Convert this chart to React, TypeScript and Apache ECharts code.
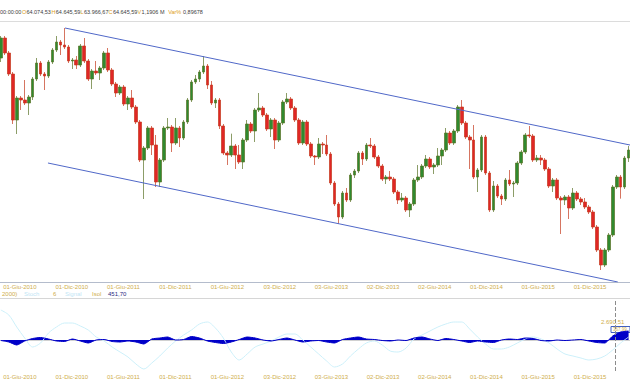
import React, { useEffect, useRef } from "react";
import * as echarts from "echarts";

// ---------- data ----------
const candleStart = "2010-03-26";
const candleStepDays = 14;
const firstOpen = 70.3;

const closes = [73.30,71.05,67.90,61.00,64.30,64.00,63.55,64.45,67.15,69.55,
67.90,67.60,69.70,71.50,72.70,72.25,71.95,69.85,70.00,69.25,
72.10,69.85,67.15,68.35,68.05,68.80,71.05,68.50,66.40,65.05,
65.95,63.40,64.30,62.95,60.70,55.00,56.80,59.80,57.25,51.70,
55.00,59.80,59.95,57.55,59.80,58.30,60.70,64.00,66.70,67.15,
68.20,69.10,66.25,63.55,64.00,60.10,56.05,55.75,57.10,55.75,
54.70,58.00,60.40,59.35,62.50,62.80,61.75,59.65,61.00,58.00,
60.55,63.70,64.15,62.80,61.00,57.55,60.70,57.40,55.60,55.45,
57.40,57.25,55.90,51.55,48.40,46.45,50.05,49.00,52.75,53.35,
56.05,55.15,57.25,57.10,55.45,54.10,52.15,52.45,52.15,50.20,
49.00,49.30,47.50,48.40,52.00,52.45,54.10,55.15,53.95,54.25,
55.60,56.50,59.05,57.55,59.35,62.95,60.55,58.45,58.00,52.45,
53.50,58.45,53.05,47.50,51.10,49.60,49.15,52.00,51.40,51.55,
54.55,56.20,58.75,58.60,55.00,55.30,55.00,53.65,51.10,52.00,
49.30,49.00,49.45,47.80,50.05,49.15,48.70,47.95,47.20,44.95,
41.50,39.25,41.50,43.75,50.95,52.45,50.95,55.30,56.50];

const highs = [73.6,73.6,71.35,68.2,64.6,64.6,67.0,64.75,67.45,70.3,
69.85,68.2,70.0,71.8,73.6,73.0,74.8,72.25,70.3,70.6,
72.4,73.3,70.15,68.65,69.85,69.1,71.35,71.8,68.8,66.7,
66.25,66.25,64.6,65.5,63.25,61.0,57.1,60.1,60.1,58.75,
55.3,60.1,61.3,60.25,61.3,60.1,61.0,64.3,67.0,67.75,
68.5,70.6,69.4,66.85,64.3,64.3,60.4,56.35,58.95,57.4,
57.25,58.3,61.0,60.7,62.8,65.05,63.1,62.05,61.3,61.3,
60.85,64.0,65.05,64.45,63.1,61.3,61.0,61.0,57.7,55.75,
58.3,57.7,58.75,56.2,51.85,48.7,50.35,50.8,53.05,53.65,
56.35,56.35,57.55,58.3,57.4,55.75,54.4,52.75,53.35,52.45,
50.5,50.05,49.6,48.7,52.3,54.25,54.4,55.75,55.45,54.55,
56.8,56.8,59.8,59.35,59.65,63.25,64.0,60.85,58.75,60.25,
53.8,58.75,58.75,53.35,51.85,51.4,49.9,52.3,53.5,51.85,
54.85,56.5,59.05,60.1,58.9,55.75,55.75,55.3,53.95,52.3,
52.3,49.6,49.75,49.75,50.8,50.35,49.45,49.3,48.25,47.5,
45.25,41.8,41.8,44.05,51.25,52.75,52.75,55.6,57.1];

const lows = [69.7,70.75,67.6,60.4,58.9,62.5,63.25,61.75,64.0,66.85,
67.6,65.5,67.3,69.4,71.2,70.75,71.65,69.55,68.65,68.65,
68.95,69.55,66.85,65.65,67.75,67.0,68.5,68.2,66.1,64.45,
64.75,63.1,62.5,62.65,60.4,54.7,49.15,56.5,55.75,50.95,
50.95,54.7,59.5,56.2,57.25,56.95,58.0,60.4,63.7,66.4,
66.7,67.9,65.65,63.25,62.8,59.65,55.75,54.25,55.45,53.65,
54.4,53.65,57.7,59.05,57.7,62.2,61.45,59.35,58.45,56.65,
57.7,60.25,63.4,62.5,60.7,57.25,57.25,57.1,55.3,54.25,
55.15,55.9,55.6,51.25,48.1,45.4,46.15,48.7,48.7,52.3,
53.05,54.25,54.85,56.8,55.15,53.8,51.85,51.4,51.85,49.9,
48.4,48.7,47.2,46.45,48.1,51.7,52.15,53.8,53.65,52.9,
53.95,54.25,56.2,57.25,57.25,59.05,60.25,58.15,53.65,52.15,
50.2,53.2,52.75,47.2,47.2,49.3,48.25,48.85,51.1,49.45,
51.25,54.25,55.9,58.3,54.7,54.7,54.25,53.35,50.8,50.2,
49.0,43.9,48.25,46.15,47.5,48.85,48.25,47.65,46.9,44.65,
41.2,38.5,38.95,41.2,43.45,50.65,49.2,50.65,54.7];

// lower panel oscillators (one value every second candle)
const oscBlue = [-0.5,-2,-5,-1,1.5,2.5,1,-1,-1.5,1,
-1,-3,0,0.5,-1.5,-2,-1,-2,-4,1,
2,3,0,0.5,3.5,2,-1,-2.5,-3.5,-2,
0.5,3,2,0,-1,0.5,2,0,-2,-1,
-0.5,-2,-3,0.5,2,3,1,0.5,-0.5,-1,
0,-0.5,2,3,1,-0.5,1.5,0.5,-1,-2.5,
-1,-2,-2.5,0,1,0.5,2,1.5,-0.5,-1,
0,-0.5,0,0.5,-1,-2.5,-3,4,8,9];

const oscCyan = [30,25,13,2,-7,-3,7,13,17,17,
14,10,3,-1,-7,-12,-17,-24,-29,-23,
-16,-8,-1,5,10,16,18,12,2,-12,
-20,-14,-7,-4,-1,3,6,6,0,-7,
-14,-21,-27,-24,-16,-9,-3,-1,-5,-11,
-12,-8,1,5,9,13,16,18,18,11,
3,-4,-9,-9,-7,-3,1,3,1,-3,
-9,-14,-16,-18,-20,-19,-16,-10,-3,3];

const tickDates = ["2010-06-01","2010-12-01","2011-06-01","2011-12-01","2012-06-01","2012-12-03",
"2013-06-03","2013-12-02","2014-06-02","2014-12-01","2015-06-01","2015-12-01"];
const tickLabels = ["01-Giu-2010","01-Dic-2010","01-Giu-2011","01-Dic-2011","01-Giu-2012","03-Dic-2012",
"03-Giu-2013","02-Dic-2013","02-Giu-2014","01-Dic-2014","01-Giu-2015","01-Dic-2015"];

const upperChannel: [string, number][] = [["2010-11-07", 74.8], ["2016-04-20", 57.25]];
const lowerChannel: [string, number][] = [["2010-09-08", 54.55], ["2016-03-08", 36.7]];
const cursorDate = "2016-02-27";

const headerTime = "00:00:00";
const headerFields = ["O", "H", "L", "C", "V", "Var%"];
const headerValues = ["64.074,53", "64.645,59", "63.966,67", "64.645,59", "1,1906 M", "0,89678"];
const legendParts = ["2000)", "Stoch", "6", "Signal", "Isol", "451,70"];
const lastOscLabel = "2.690,51";
const lastOscBox = "367,99";

const axisStart = "2010-03-23";
const axisEnd = "2016-04-20";

// ---------- helpers ----------
const DAY = 86400000;
function ts(s: string) {
  const [y, m, d] = s.split("-").map(Number);
  return Date.UTC(y, m - 1, d);
}

const GOLD = "#cfae4c";
const FONT = '"Liberation Sans", Arial, sans-serif';

export default function App() {
  const ref = useRef<HTMLDivElement>(null);
  useEffect(() => {
    if (!ref.current) return;
    const chart = echarts.init(ref.current, null, { renderer: "svg" });
    const t0 = ts(candleStart);
    const dates = closes.map((_, i) => t0 + i * candleStepDays * DAY);
    const candles = closes.map((c, i) => [dates[i], i === 0 ? firstOpen : closes[i - 1], c, lows[i], highs[i]]);
    const blue = oscBlue.map((v, k) => [dates[2 * k], v]);
    const cyan = oscCyan.map((v, k) => [dates[2 * k], v]);
    const tickTs = tickDates.map(ts);
    const fmt = (v: number) => {
      const i = tickTs.findIndex((t) => Math.abs(t - v) < DAY / 2);
      return i >= 0 ? tickLabels[i] : "";
    };

    const txt = (x: number, y: number, text: string, fill: string, size = 6) => ({
      type: "text", x, y, silent: true,
      style: { text, fill, fontSize: size, fontFamily: FONT, verticalAlign: "middle", align: "left" },
    });

    const hdrLabelX = [22, 51.6, 80.6, 108.6, 137.6, 168.2];
    const hdrValueX = [26.4, 55.8, 84, 112.9, 141.6, 183];
    const graphics: any[] = [txt(0, 12, headerTime, "#404040", 5.5)];
    headerFields.forEach((f, i) => {
      graphics.push(txt(hdrLabelX[i], 12, f, "#e0a020", 5.5));
      graphics.push(txt(hdrValueX[i], 12, headerValues[i], "#404040", 5.5));
    });
    const legX = [2, 24, 53, 65, 92, 108];
    const legC = [GOLD, "#bfe6f5", GOLD, "#bfe6f5", GOLD, "#2a2a80"];
    legendParts.forEach((p, i) => graphics.push(txt(legX[i], 294, p, legC[i])));
    graphics.push({ type: "line", silent: true, shape: { x1: 0, y1: 21.5, x2: 630, y2: 21.5 }, style: { stroke: "#dcdcdc", lineWidth: 1 } });
    graphics.push({ type: "line", silent: true, shape: { x1: 0, y1: 298.5, x2: 630, y2: 298.5 }, style: { stroke: "#d6d6d6", lineWidth: 1 } });
    graphics.push(txt(601, 322, lastOscLabel, GOLD));
    graphics.push({ type: "rect", silent: true, shape: { x: 611, y: 326.5, width: 19, height: 6 }, style: { fill: "#ffffff", stroke: "#4060c0", lineWidth: 1 } });
    graphics.push({ type: "text", x: 613, y: 329.5, silent: true, style: { text: lastOscBox, fill: GOLD, fontSize: 4.5, fontFamily: FONT, verticalAlign: "middle" } });

    const xCommon = {
      type: "value",
      min: ts(axisStart),
      max: ts(axisEnd),
      splitLine: { show: false },
      axisTick: { show: false },
      axisLabel: {
        customValues: tickTs,
        formatter: fmt,
        color: GOLD,
        fontSize: 6,
        fontFamily: FONT,
        hideOverlap: false,
      },
    };

    chart.setOption({
      animation: false,
      backgroundColor: "#ffffff",
      grid: [
        { left: 0, right: 0, top: 20, height: 262, outerBoundsMode: "none" },
        { left: 0, right: 0, top: 299, height: 72, outerBoundsMode: "none" },
      ],
      xAxis: [
        { ...xCommon, gridIndex: 0, axisLine: { lineStyle: { color: "#b4bccc", width: 1 } }, axisLabel: { ...xCommon.axisLabel, margin: 2 } },
        { ...xCommon, gridIndex: 1, axisLine: { lineStyle: { color: "#d0d0d0", width: 1 } }, axisLabel: { ...xCommon.axisLabel, margin: 3 } },
      ],
      yAxis: [
        { type: "value", gridIndex: 0, min: 36.7, max: 76, show: false, splitLine: { show: false } },
        { type: "value", gridIndex: 1, min: -31, max: 41, show: false, splitLine: { show: false } },
      ],
      series: [
        {
          type: "candlestick",
          xAxisIndex: 0,
          yAxisIndex: 0,
          data: candles,
          barWidth: 3.2,
          itemStyle: {
            color: "#2f8a2f",
            color0: "#e02626",
            borderColor: "#5a7226",
            borderColor0: "#c43a1c",
            borderWidth: 0.7,
          },
        },
        {
          type: "line", xAxisIndex: 0, yAxisIndex: 0, showSymbol: false, silent: true,
          data: upperChannel.map(([d, v]) => [ts(d), v]),
          lineStyle: { color: "#5068c8", width: 1 },
        },
        {
          type: "line", xAxisIndex: 0, yAxisIndex: 0, showSymbol: false, silent: true,
          data: lowerChannel.map(([d, v]) => [ts(d), v]),
          lineStyle: { color: "#5068c8", width: 1 },
        },
        {
          type: "line", xAxisIndex: 1, yAxisIndex: 1, showSymbol: false, silent: true, smooth: 0.3,
          data: cyan,
          lineStyle: { color: "#cdf0fa", width: 1 },
        },
        {
          type: "line", xAxisIndex: 1, yAxisIndex: 1, showSymbol: false, silent: true, smooth: 0.2,
          data: blue,
          lineStyle: { color: "#0000c8", width: 1 },
          areaStyle: { color: "#0000c8", opacity: 1 },
          markLine: {
            silent: true,
            symbol: "none",
            label: { show: false },
            lineStyle: { type: "dashed", color: "#8c8c8c", width: 1 },
            data: [{ xAxis: ts(cursorDate) }],
          },
        },
      ],
      graphic: graphics,
    });
    return () => chart.dispose();
  }, []);
  return <div ref={ref} style={{ position: "absolute", left: 0, top: 0, width: 630, height: 380 }} />;
}
